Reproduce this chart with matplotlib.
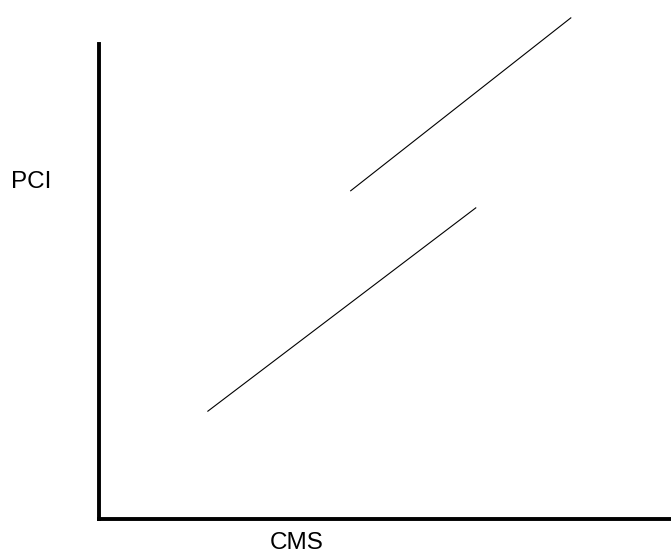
import matplotlib
matplotlib.use("Agg")
import matplotlib.pyplot as plt

# Data (axes units 0-100)
lower_x = [19.1, 65.9]
lower_y = [22.7, 65.5]
upper_x = [44.05, 82.5]
upper_y = [69.1, 105.5]
x_label = "CMS"
y_label = "PCI"

W, H = 671, 554
fig = plt.figure(figsize=(W / 100, H / 100), dpi=100)
ax = fig.add_axes([98.5 / W, 35 / H, (W - 98.5) / W, (519 - 44) / H])
ax.set_xlim(0, 100)
ax.set_ylim(0, 100)

ax.plot(lower_x, lower_y, color="black", lw=0.8, clip_on=False)
ax.plot(upper_x, upper_y, color="black", lw=0.8, clip_on=False)

for s in ["top", "right"]:
    ax.spines[s].set_visible(False)
for s in ["left", "bottom"]:
    ax.spines[s].set_linewidth(2.8)
    ax.spines[s].set_color("black")
ax.set_xticks([])
ax.set_yticks([])

font = dict(family="Liberation Sans", fontsize=17.5, color="black")
fig.text(31 / W, 1 - 182 / H, y_label, ha="center", va="center", **font)
fig.text(297 / W, 1 - 543 / H, x_label, ha="center", va="center", **font)

fig.savefig("out.png", dpi=100)
